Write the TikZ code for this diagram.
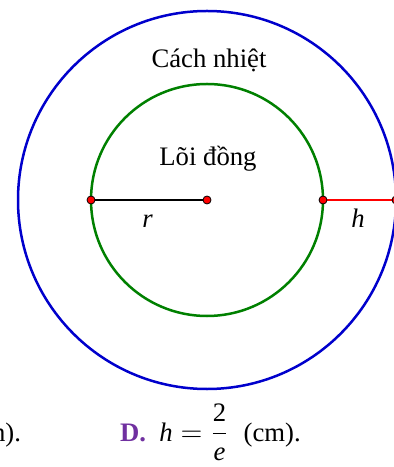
\documentclass[tikz,border=0pt]{standalone}
\usepackage{amsmath}
\usepackage{fontspec}
\setmainfont{Liberation Serif}
\usepackage{tikz}
\usetikzlibrary{positioning,calc}
\definecolor{ringblue}{RGB}{0,0,204}
\definecolor{coregreen}{RGB}{0,128,0}
\definecolor{optpurple}{RGB}{112,48,160}
\tikzset{
    pt/.style={circle,fill=red,draw=black,line width=0.4bp,inner sep=0pt,minimum size=4bp},
    lbl/.style={anchor=base,font=\fontsize{13.4}{16}\selectfont}
}

\begin{document}
\begin{tikzpicture}[x=0.5bp,y=-0.5bp]
    \useasboundingbox (0,0) rectangle (394,467);
    \clip (0,0) rectangle (394,467);

    % centre and points on the radius
    \coordinate (O) at (207,200);
    \coordinate (A) at (91,200);
    \coordinate (B) at (323,200);
    \coordinate (C) at (396,200);

    % insulation and copper core
    \draw[ringblue,line width=1.25bp] (O) circle [radius=189];
    \draw[coregreen,line width=1.25bp] (O) circle [radius=116];

    % r and h
    \draw[black,line width=1.1bp] (A) -- (O);
    \draw[red,line width=1.1bp] (B) -- (C);
    \node[pt] (pA) at (A) {};
    \node[pt] (pO) at (O) {};
    \node[pt] (pB) at (B) {};
    \node[pt] (pC) at (C) {};

    \node[lbl] (insul) at (209,68) {Cách nhiệt};
    \node[lbl] (core) at (208,166) {Lõi đồng};
    \node[lbl] (rlab) at (147.5,228) {\textit{r}};
    \node[lbl] (hlab) at (358,228) {\textit{h}};

    % answer line
    \node[lbl,anchor=base east] (prev) at (28,441) {n).};
    \node[lbl,anchor=base west] (optD) at (113,441)
        {\textcolor{optpurple}{\textbf{D.}}\enspace$\textit{h}=\dfrac{\textup{2}}{\textit{e}}$\hspace{7.5bp}(cm).};
\end{tikzpicture}
\end{document}
